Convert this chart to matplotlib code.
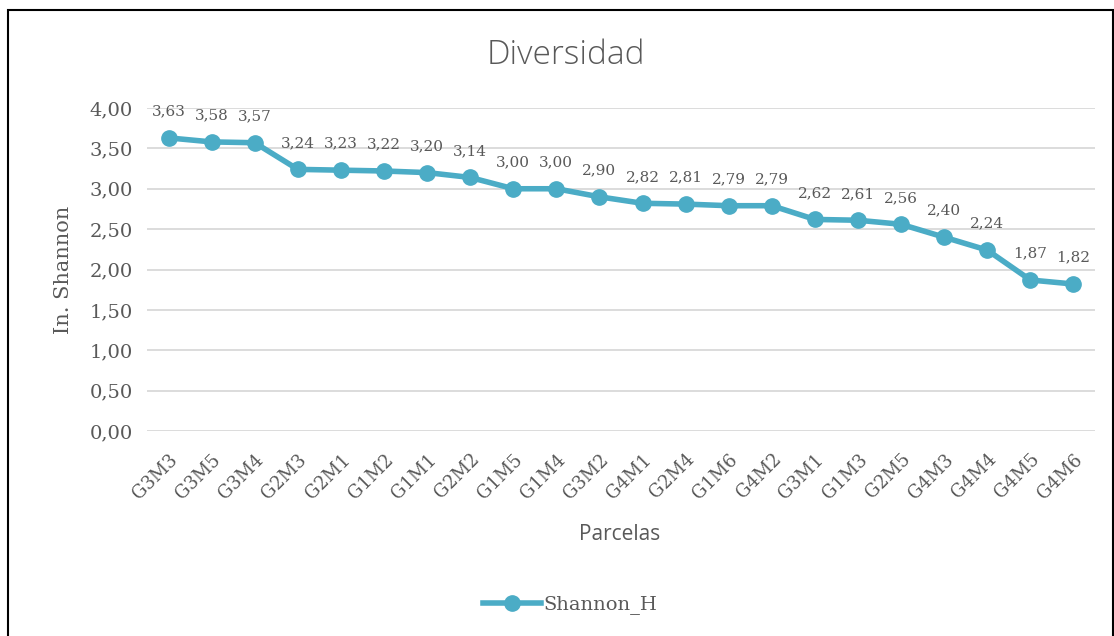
import matplotlib.pyplot as plt
from matplotlib.patches import Rectangle
from matplotlib.lines import Line2D

# Datos
parcelas = ['G3M3', 'G3M5', 'G3M4', 'G2M3', 'G2M1', 'G1M2', 'G1M1', 'G2M2', 'G1M5', 'G1M4', 'G3M2',
            'G4M1', 'G2M4', 'G1M6', 'G4M2', 'G3M1', 'G1M3', 'G2M5', 'G4M3', 'G4M4', 'G4M5', 'G4M6']
shannon_h = [3.63, 3.58, 3.57, 3.24, 3.23, 3.22, 3.20, 3.14, 3.00, 3.00, 2.90,
             2.82, 2.81, 2.79, 2.79, 2.62, 2.61, 2.56, 2.40, 2.24, 1.87, 1.82]
y_ticks = [0, 0.5, 1, 1.5, 2, 2.5, 3, 3.5, 4]

azul = '#4BACC6'
gris = '#595959'
serif = ['DejaVu Serif']
sans = ['Open Sans']

fig = plt.figure(figsize=(11.14, 6.36), dpi=100)
W, H = 1114, 636
ax = fig.add_axes([147 / W, 1 - 431 / H, (1095 - 147) / W, (431 - 108) / H])

x = list(range(len(parcelas)))
ax.plot(x, shannon_h, color=azul, lw=4, marker='o', ms=11, zorder=3)

for i, v in enumerate(shannon_h):
    ax.annotate(f"{v:.2f}".replace('.', ','), (i, v), xytext=(0, 14), textcoords='offset points',
                ha='center', va='bottom', fontsize=11, color=gris, family=serif)

ax.set_xlim(-0.5, len(parcelas) - 0.5)
ax.set_ylim(0, 4)
ax.set_yticks(y_ticks)
ax.set_yticklabels([f"{t:.2f}".replace('.', ',') for t in y_ticks], family=serif, fontsize=14, color=gris)
ax.set_xticks(x)
ax.set_xticklabels(parcelas, rotation=45, ha='right', rotation_mode='anchor',
                   family=serif, fontsize=13, color=gris)
ax.tick_params(axis='y', length=0, pad=10)
ax.tick_params(axis='x', length=0, pad=14)
ax.grid(axis='y', color='#D9D9D9', lw=1.3)
ax.set_axisbelow(True)
for s in ax.spines.values():
    s.set_visible(False)

ax.set_ylabel('In. Shannon', family=serif, fontsize=15, color=gris, labelpad=12)
fig.text(620 / W, 1 - 535 / H, 'Parcelas', ha='center', va='center', family=sans, fontsize=15, color=gris)
fig.text(566 / W, 1 - 55 / H, 'Diversidad', ha='center', va='center', family=sans, fontsize=24,
         color=gris, fontweight='light')

# Leyenda
h = Line2D([], [], color=azul, lw=4, marker='o', ms=11)
fig.legend([h], ['Shannon_H'], loc='center', bbox_to_anchor=(570 / W, 1 - 605 / H), frameon=False,
           prop={'family': serif, 'size': 14}, labelcolor=gris, handlelength=3, handletextpad=0.1)

# Borde
fig.patches.append(Rectangle((8 / W, -0.05), (W - 9) / W, 1.05 - 10 / H, transform=fig.transFigure,
                             fill=False, ec='black', lw=1.5))

fig.savefig('out.png', dpi=100)
